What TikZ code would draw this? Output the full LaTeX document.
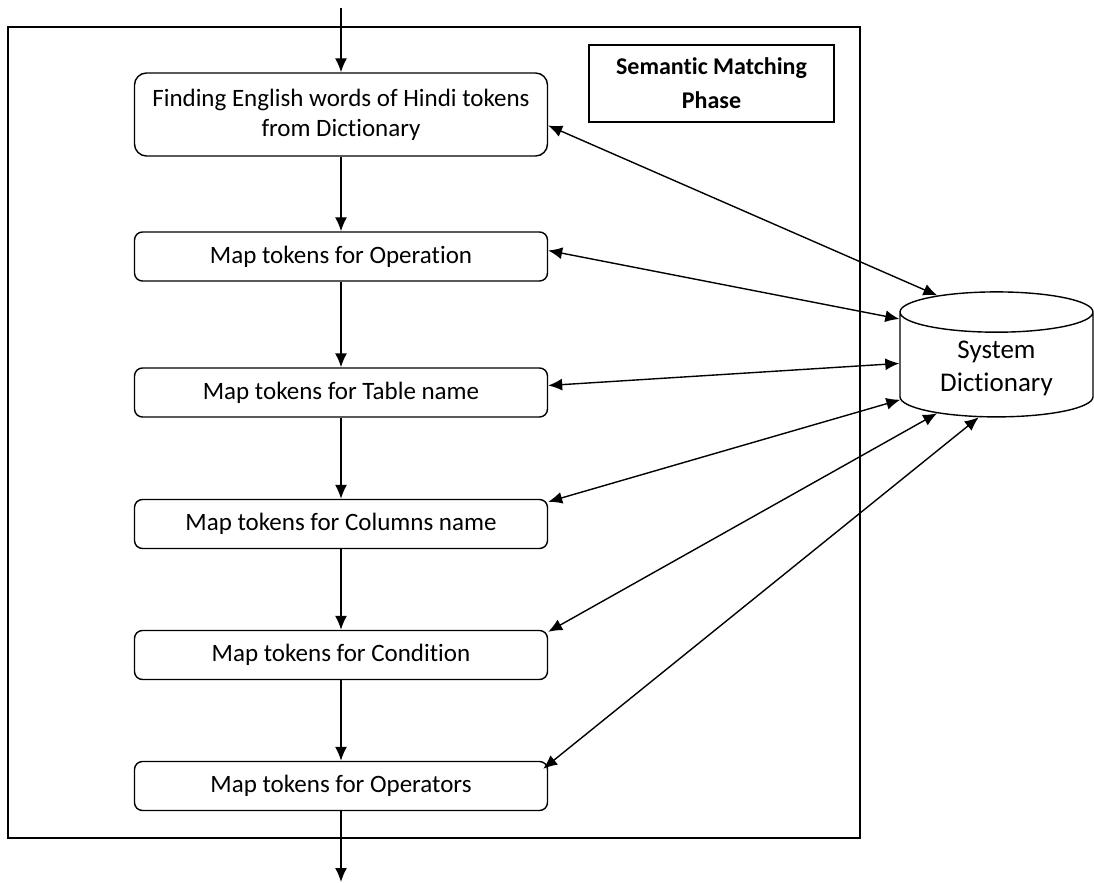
\documentclass[tikz,border=0pt]{standalone}
\usepackage{fontspec}
\setmainfont{Carlito}[Ligatures=NoCommon]
\usetikzlibrary{shapes.geometric,arrows.meta}

\begin{document}
\begin{tikzpicture}[x=0.5pt,y=-0.5pt,
	stepbox/.style={draw,line width=0.7pt,rounded corners=4pt,minimum width=206.5pt,minimum height=24.5pt,inner sep=0pt,align=center,font=\fontsize{12.5}{15}\selectfont},
	flow/.style={line width=0.7pt,-{Latex[length=7pt,width=6pt]}},
	lookup/.style={line width=0.7pt,{Latex[length=7pt,width=6pt]}-{Latex[length=7pt,width=6pt]}}]
	\useasboundingbox (0,0) rectangle (1094,883);
	
	%OUTLINE
	\draw[line width=0.7pt] (8,27) rectangle (860,838);
	\node[draw,line width=0.7pt,minimum width=122.5pt,minimum height=38.5pt,align=center,font=\bfseries\fontsize{12}{17}\selectfont] (phase) at (711.5,83.5) {Semantic Matching\\Phase};
	
	%STEPS
	\node[stepbox,rounded corners=6pt,minimum height=41.5pt] (s1) at (341,114.5) {Finding English words of Hindi tokens\\from Dictionary};
	\node[stepbox] (s2) at (341,256.5) {Map tokens for Operation};
	\node[stepbox] (s3) at (341,392.5) {Map tokens for Table name};
	\node[stepbox] (s4) at (341,524) {Map tokens for Columns name};
	\node[stepbox] (s5) at (341,655) {Map tokens for Condition};
	\node[stepbox] (s6) at (341,786) {Map tokens for Operators};
	
	%DICTIONARY
	\node[draw,line width=0.7pt,cylinder,shape border rotate=90,aspect=0.32,minimum width=96.5pt,minimum height=62.5pt,align=center,font=\fontsize{13.5}{16.5}\selectfont] (dict) at (996.5,368.5) {System\\Dictionary};
	
	%IN AND OUT
	\coordinate (in) at (341,8);
	\coordinate (out) at (341,882);
	\draw[flow] (in) -- (s1);
	\foreach \a/\b in {s1/s2,s2/s3,s3/s4,s4/s5,s5/s6} \draw[flow] (\a) -- (\b);
	\draw[flow] (s6) -- (out);
	
	%LOOKUPS
	\draw[lookup] ([yshift=-5.5pt]s1.east) -- (dict.129);
	\draw[lookup] ([yshift=3pt]s2.east) -- (dict.153);
	\draw[lookup] ([yshift=3.5pt]s3.east) -- (dict.177);
	\draw[lookup] ([yshift=-1.5pt]s4.north east) -- (dict.198);
	\draw[lookup] ([yshift=-1pt]s5.north east) -- (dict.217);
	\draw[lookup] ([xshift=-2.5pt,yshift=-4pt]s6.north east) -- (dict.250);
\end{tikzpicture}
\end{document}
